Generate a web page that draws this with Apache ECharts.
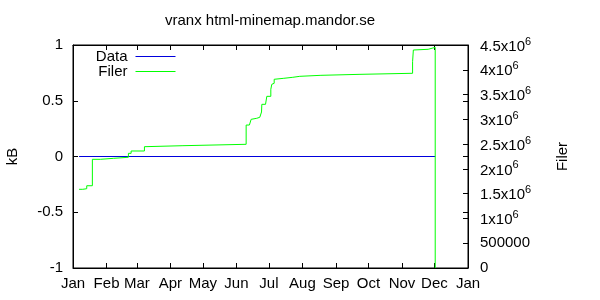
<!DOCTYPE html>
<html>
<head>
<meta charset="utf-8">
<script src="https://cdn.jsdelivr.net/npm/echarts@6/dist/echarts.min.js"></script>
<style>html,body{margin:0;padding:0;background:#fff}#c{width:600px;height:300px}</style>
</head>
<body>
<div id="c"></div>
<script>
var monthNames = ['Jan','Feb','Mar','Apr','May','Jun','Jul','Aug','Sep','Oct','Nov','Dec','Jan'];
var monthStarts = [0,31,59,90,120,151,181,212,243,273,304,334,365];
var kbTicks = [-1,-0.5,0,0.5,1];
var filerTicks = [0,500000,1000000,1500000,2000000,2500000,3000000,3500000,4000000,4500000];

var dataDays = [5.6, 334.7];
var dataValues = [0, 0];

var filerDays = [5.6, 9.0, 12.7, 17.9, 25.3, 37.3, 51.2, 53.7, 66.0, 67.6,
  101.6, 160.0, 163.0, 164.6, 165.8, 169.8, 172.6, 174.2, 174.5, 177.9,
  179.1, 182.8, 183.7, 185.0, 185.9, 187.4, 194.8, 203.1, 209.6, 229.1,
  265.2, 313.8, 314.5, 314.7, 328.2, 334.7];
var filerValues = [1588000, 1600000, 1660000, 2193000, 2213000, 2234000, 2314000, 2361000, 2448000, 2468000,
  2496000, 2885000, 2920000, 3000000, 3021000, 3041000, 3061000, 3148000, 3303000, 3323000,
  3464000, 3606000, 3707000, 3727000, 3808000, 3828000, 3848000, 3868000, 3888000, 3908000,
  3929000, 4163000, 4399000, 4413000, 4453000, 0];

function zip(a, b) { return a.map(function (v, i) { return [v, b[i]]; }); }

var FONT = '"Liberation Sans", Arial, sans-serif';
var FS = 15;
var BLUE = '#0000dd';
var GREEN = '#00ff00';
var tickStyle = { show: true, inside: true, length: 5, lineStyle: { color: '#000', width: 1 } };

function legendFor(name, color, top) {
  return {
    data: [{ name: name, itemStyle: { color: color, borderWidth: 0, opacity: 0 }, lineStyle: { color: color, width: 1 } }],
    orient: 'vertical', align: 'right', right: 424, top: top, padding: 0,
    itemWidth: 40, itemHeight: 14,
    itemStyle: { color: color, borderWidth: 0, opacity: 0 },
    lineStyle: { color: color, width: 1 },
    textStyle: { fontFamily: FONT, fontSize: FS, color: '#000', padding: [0, 3, 0, 0] }
  };
}

var chart = echarts.init(document.getElementById('c'), null, { renderer: 'canvas' });
chart.setOption({
  animation: false,
  backgroundColor: '#fff',
  textStyle: { fontFamily: FONT, fontSize: FS, color: '#000' },
  title: {
    text: 'vranx html-minemap.mandor.se',
    left: 270, top: 13, textAlign: 'center', padding: 0,
    textStyle: { fontFamily: FONT, fontSize: FS, fontWeight: 'normal', color: '#000' }
  },
  legend: [legendFor('Data', BLUE, 49), legendFor('Filer', GREEN, 64)],
  grid: { left: 73, right: 132, top: 45, bottom: 32, outerBoundsMode: 'none', containLabel: false,
    show: true, borderColor: '#000', borderWidth: 1, backgroundColor: 'transparent' },
  xAxis: [
    { type: 'value', position: 'bottom', min: 0, max: 365,
      axisLine: { show: true, onZero: false, lineStyle: { color: '#000' } },
      axisTick: Object.assign({}, tickStyle, { customValues: monthStarts }),
      axisLabel: { show: true, customValues: monthStarts, margin: 8, color: '#000', fontFamily: FONT, fontSize: FS,
        showMinLabel: true, showMaxLabel: true,
        formatter: function (v) { var i = monthStarts.indexOf(v); return i >= 0 ? monthNames[i] : ''; } },
      splitLine: { show: false } },
    { type: 'value', position: 'top', min: 0, max: 365,
      axisLine: { show: true, onZero: false, lineStyle: { color: '#000' } },
      axisTick: Object.assign({}, tickStyle, { customValues: monthStarts }),
      axisLabel: { show: false },
      splitLine: { show: false } }
  ],
  yAxis: [
    { type: 'value', position: 'left', min: -1, max: 1, interval: 0.5,
      name: 'kB', nameLocation: 'middle', nameGap: 53, nameRotate: 90,
      nameTextStyle: { fontFamily: FONT, fontSize: FS, color: '#000' },
      axisLine: { show: true, onZero: false, lineStyle: { color: '#000' } },
      axisTick: tickStyle,
      axisLabel: { margin: 10, color: '#000', fontFamily: FONT, fontSize: FS },
      splitLine: { show: false } },
    { type: 'value', position: 'right', min: 0, max: 4500000, interval: 500000,
      name: 'Filer', nameLocation: 'middle', nameGap: 87, nameRotate: 90,
      nameTextStyle: { fontFamily: FONT, fontSize: FS, color: '#000' },
      axisLine: { show: true, onZero: false, lineStyle: { color: '#000' } },
      axisTick: tickStyle,
      axisLabel: { margin: 12, color: '#000', fontFamily: FONT, fontSize: FS, align: 'left',
        formatter: function (v) {
          if (v === 0) return '0';
          if (v === 500000) return '500000';
          return '{m|' + (v / 1e6) + 'x10}{s|6}';
        },
        rich: {
          m: { fontFamily: FONT, fontSize: FS, color: '#000', verticalAlign: 'bottom' },
          s: { fontFamily: FONT, fontSize: 11, color: '#000', verticalAlign: 'bottom', padding: [0, 0, 7, 0] }
        } },
      splitLine: { show: false } },
    { type: 'value', position: 'right', min: -1, max: 1, interval: 0.5,
      axisLine: { show: false, onZero: false },
      axisTick: tickStyle,
      axisLabel: { show: false },
      splitLine: { show: false } }
  ],
  series: [
    { name: 'Data', type: 'line', xAxisIndex: 0, yAxisIndex: 0, data: zip(dataDays, dataValues),
      showSymbol: false, symbol: 'none', itemStyle: { color: BLUE }, lineStyle: { color: BLUE, width: 1 } },
    { name: 'Filer', type: 'line', xAxisIndex: 0, yAxisIndex: 1, step: 'end', data: zip(filerDays, filerValues),
      showSymbol: false, symbol: 'none', itemStyle: { color: GREEN }, lineStyle: { color: GREEN, width: 1 } }
  ]
});
</script>
</body>
</html>
